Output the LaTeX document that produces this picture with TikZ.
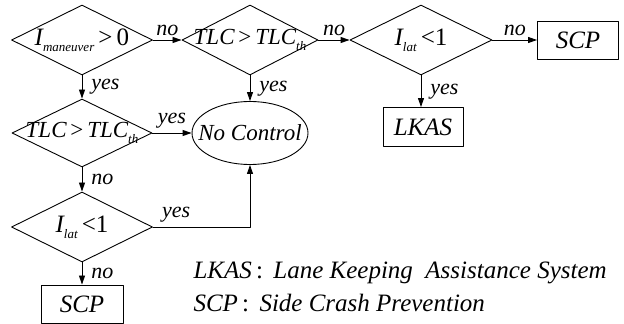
\documentclass[tikz,border=0pt]{standalone}
\usepackage{fontspec}
\setmainfont{Liberation Serif}
\usetikzlibrary{shapes.geometric,arrows.meta}
\newcommand{\idx}[1]{\raisebox{-6pt}{\fontsize{13}{13}\selectfont #1}}

\begin{document}
\begin{tikzpicture}[line cap=round,line join=round,>={Triangle[length=9pt,width=6pt]},x=1pt,y=1pt,
  font=\fontsize{25}{28}\selectfont\itshape,
  test/.style={diamond,draw,line width=0.9pt,inner sep=0pt,minimum width=141pt,minimum height=70pt},
  act/.style={rectangle,draw,line width=0.9pt,inner sep=0pt,minimum width=81pt,minimum height=38pt},
  lbl/.style={font=\fontsize{22}{24}\selectfont\itshape,inner sep=4pt},
  lblr/.style={lbl,right,xshift=5pt},
  small/.style={font=\fontsize{23}{26}\selectfont\itshape}]
\useasboundingbox (0,0) rectangle (624,324);
% decisions
\node[test,label=center:{I\idx{maneuver}\,{\upshape >}\,{\upshape 0}}] (man) at (82,284) {};
\node[test,minimum width=136pt,label={[small]center:{TLC\,{\upshape >}\,TLC\idx{th}}}] (tlca) at (250,284) {};
\node[test,minimum width=142pt,label=center:{I\idx{lat}\,{\upshape <}{\upshape 1}}] (lata) at (421,284) {};
\node[test,minimum width=140pt,minimum height=68pt,label={[small]center:{TLC\,{\upshape >}\,TLC\idx{th}}}] (tlcb) at (82,191) {};
\node[test,label=center:{I\idx{lat}\,{\upshape <}{\upshape 1}}] (latb) at (82,97) {};
% outcomes
\node[ellipse,draw,line width=0.9pt,inner sep=0pt,minimum width=116pt,minimum height=63pt,label={[small]center:{No Control}}] (ctrl) at (250,191) {};
\node[act] (scpa) at (578,284) {SCP};
\node[act,minimum width=80pt,minimum height=39pt] (lkas) at (423,197) {LKAS};
\node[act,minimum width=82pt] (scpb) at (82,20) {SCP};
% connectors
\draw[->,line width=0.9pt] (man) -- node[lbl,above] {no} (tlca);
\draw[->,line width=0.9pt] (tlca) -- node[lbl,above] {no} (lata);
\draw[->,line width=0.9pt] (lata) -- node[lbl,above] {no} (scpa);
\draw[->,line width=0.9pt] (lata.south) -- node[lblr] {yes} (lata.south |- lkas.north);
\draw[->,line width=0.9pt] (man) -- node[lblr] {yes} (tlcb);
\draw[->,line width=0.9pt] (tlca) -- node[lblr] {yes} (ctrl);
\draw[->,line width=0.9pt] (tlcb) -- node[lbl,above] {yes} (ctrl);
\draw[->,line width=0.9pt] (tlcb) -- node[lblr] {no} (latb);
\draw[->,line width=0.9pt] (latb) -- node[lblr] {no} (scpb);
\draw[->,line width=0.9pt] (latb.east) -| node[lbl,pos=0.12,above] {yes} (ctrl.south);
% key
\node[anchor=west] (keya) at (190,51) {LKAS\,{\upshape :}\, Lane Keeping~ Assistance System};
\node[anchor=west] (keyb) at (190,21) {SCP\,{\upshape :}\, Side Crash Prevention};
\end{tikzpicture}
\end{document}
